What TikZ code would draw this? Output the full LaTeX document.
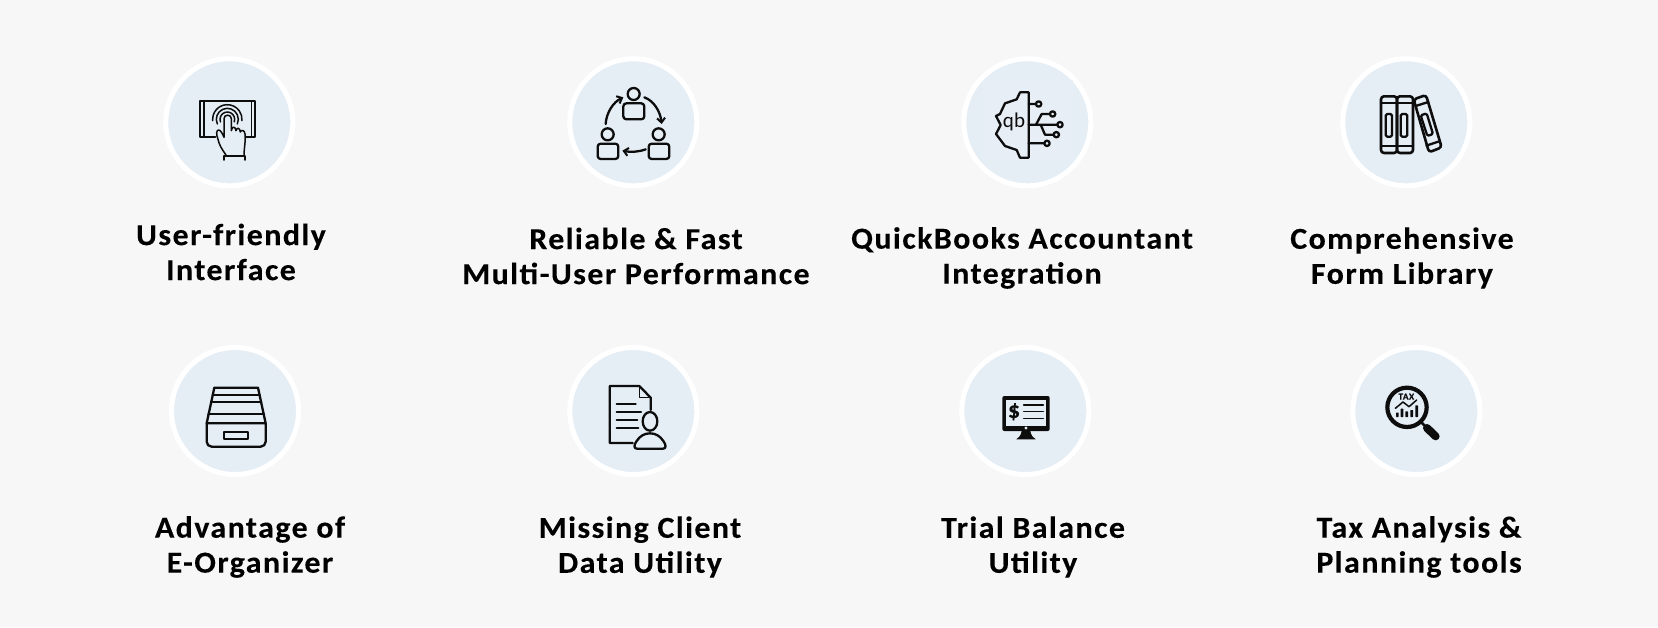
\documentclass[tikz,border=0pt]{standalone}
\usepackage{fontspec}
\setmainfont{Carlito}[BoldFeatures={FakeStretch=1.05,LetterSpace=4.6,FakeBold=0.12}]
\usetikzlibrary{arrows.meta}
\definecolor{pagebg}{HTML}{F7F7F7}
\definecolor{disc}{HTML}{E5EDF5}
\definecolor{ink}{HTML}{0D0D0D}
\tikzset{
  badge/.style={circle,draw=white,line width=5pt,fill=disc,inner sep=0pt,minimum size=127pt},
  caption/.style={align=center,inner sep=0pt,font=\fontsize{30.5}{35}\selectfont\bfseries,text=black},
  icon/.style={draw=ink,line width=2.3pt,line cap=round,line join=round},
  iconthin/.style={draw=ink,line width=1.5pt,line cap=round,line join=round},
  icongrid/.style={x=.33333pt,y=-.33333pt},
  flowtip/.style={-{Straight Barb[length=4.5pt,width=8pt,line width=2pt]}}
}
\begin{document}
\begin{tikzpicture}[x=1pt,y=-1pt]
\useasboundingbox (0,0) rectangle (1658,627);
\fill[pagebg] (0,0) rectangle (1658,627);
% badges
\node[badge] (b1) at (229.3,122.3) {};
\node[badge] (b2) at (633.3,122.3) {};
\node[badge] (b3) at (1027.3,122.3) {};
\node[badge] (b4) at (1406.3,122.3) {};
\node[badge] (b5) at (235,411) {};
\node[badge] (b6) at (633.3,411) {};
\node[badge] (b7) at (1025.3,411) {};
\node[badge] (b8) at (1416.3,411) {};
% captions
\node[caption] (t1) at (231,252) {User-friendly\\Interface};
\node[caption] (t2) at (636,256) {Reliable \& Fast\\Multi-User Performance};
\node[caption] (t3) at (1022,258) {QuickBooks Accountant\\Integration};
\node[caption] (t4) at (1402,258) {Comprehensive\\Form Library};
\node[caption] (t5) at (250,547) {Advantage of\\E-Organizer};
\node[caption] (t6) at (640,547) {Missing Client\\Data Utility};
\node[caption] (t7) at (1033,547) {Trial Balance\\Utility};
\node[caption] (t8) at (1419,547) {Tax Analysis \&\\Planning tools};
% icon 1: touch screen
\begin{scope}[xshift=150pt,yshift=-40pt,icongrid]
  \draw[icon,line width=1.9pt] (196,292) -- (150,292) -- (150,182) -- (316,182) -- (316,292) -- (286,292);
  \draw[iconthin] (162,184) -- (162,290) (305,184) -- (305,290);
  \draw[iconthin] (232,238) ++(160:22) arc[start angle=160,end angle=380,radius=22];
  \draw[iconthin] (232,238) ++(155:33) arc[start angle=155,end angle=385,radius=33];
  \draw[iconthin] (232,238) ++(175:44) arc[start angle=175,end angle=365,radius=44];
  \draw[iconthin,fill=disc] (228,345) .. controls (214,325) and (208,315) .. (204,298)
     .. controls (197,280) and (200,270) .. (206,270) .. controls (212,270) and (218,282) .. (222,292)
     -- (222,236) .. controls (222,222) and (244,222) .. (244,236) -- (244,272)
     .. controls (246,258) and (256,258) .. (258,272)
     .. controls (260,262) and (270,262) .. (271,276)
     .. controls (274,268) and (284,270) .. (285,282)
     .. controls (288,300) and (282,325) .. (282,345);
  \draw[icon,line width=1.9pt] (222,360) -- (222,349) -- (286,349) -- (286,360);
\end{scope}
% icon 2: three users
\begin{scope}[xshift=555pt,yshift=-40pt,icongrid]
  \draw[icon] (236,162) circle[radius=18];
  \draw[icon,rounded corners=3pt] (205,190) rectangle (268,238);
  \draw[icon] (158,283) circle[radius=18];
  \draw[icon,rounded corners=3pt] (128,311) rectangle (190,357);
  \draw[icon] (311,283) circle[radius=18];
  \draw[icon,rounded corners=3pt] (281,311) rectangle (343,357);
  \draw[icon,flowtip] (152,252) .. controls (154,218) and (175,186) .. (205,172);
  \draw[icon,flowtip] (268,172) .. controls (296,182) and (316,214) .. (320,252);
  \draw[icon,flowtip] (272,328) .. controls (250,336) and (226,337) .. (202,332);
\end{scope}
% icon 3: qb circuit
\begin{scope}[xshift=950pt,yshift=-40pt,icongrid]
  \fill[disc!93!white] (100,120) rectangle (370,360);
  \draw[icon] (236,157) -- (210,157) -- (200,178) -- (165,190) -- (150,222) -- (138,228) -- (152,255) -- (138,282) -- (165,318) -- (200,330) -- (210,353) -- (236,353) -- cycle;
  \node[inner sep=0pt,text=ink,font=\fontsize{21}{21}\selectfont] (qb) at (192,247) {qb};
  \draw[icon] (236,192) -- (258,192) (236,254) -- (322,254) (258,254) -- (275,222) -- (300,222) (272,254) -- (285,284) -- (310,284) (236,310) -- (283,310);
  \foreach \cx/\cy in {266/192,308/222,330/254,319/284,291/310}
    \draw[icon] (\cx,\cy) circle[radius=8];
\end{scope}
% icon 4: books
\begin{scope}[xshift=1325pt,yshift=-40pt,icongrid]
  \draw[icon,line width=2.6pt,rounded corners=3pt] (168,169) rectangle (216,339);
  \draw[icon,line width=2.6pt,rounded corners=3pt] (216,169) rectangle (264,339);
  \draw[icon] (168,190) -- (264,190) (168,318) -- (264,318);
  \draw[icon,rounded corners=1.5pt] (182,222) rectangle (201,290);
  \draw[icon,rounded corners=1.5pt] (227,222) rectangle (247,290);
  \draw[icon,line width=2.6pt,rounded corners=3pt] (266,178) -- (303,165) -- (350,322) -- (312,337) -- cycle;
  \draw[icon] (272,198) -- (310,186) (304,317) -- (343,304);
  \draw[icon,rounded corners=1.5pt] (287,226) -- (305,220) -- (324,282) -- (307,288) -- cycle;
\end{scope}
% icon 5: drawer
\begin{scope}[xshift=155pt,yshift=-330pt,icongrid]
  \draw[icon] (155,280) -- (178,173) -- (309,173) -- (332,280);
  \draw[icon] (173,196) -- (314,196) (168,216) -- (319,216) (160,252) -- (327,252);
  \draw[icon] (155,280) [rounded corners=5pt] -- (155,350) -- (332,350) [sharp corners] -- (332,280) -- cycle;
  \draw[icon] (208,305) rectangle (280,328);
\end{scope}
% icon 6: client document
\begin{scope}[xshift=555pt,yshift=-330pt,icongrid]
  \draw[icon] (233,339) -- (164,339) -- (164,168) -- (253,168) -- (287,203) -- (287,240);
  \draw[iconthin] (253,168) -- (253,203) -- (287,203);
  \draw[icon] (185,221) -- (242,221) (185,245) -- (258,245) (185,270) -- (247,270) (185,295) -- (250,295);
  \draw[icon] (285,274) ellipse[x radius=22,y radius=28];
  \draw[icon] (246,356) .. controls (236,356) and (236,345) .. (245,333) .. controls (255,318) and (268,310) .. (285,310) .. controls (302,310) and (315,318) .. (325,333) .. controls (334,345) and (334,356) .. (324,356) -- cycle;
\end{scope}
% icon 7: monitor
\begin{scope}[xshift=945pt,yshift=-330pt,icongrid]
  \fill[ink,rounded corners=2pt] (172,198) rectangle (314,303);
  \fill[disc] (184,210) rectangle (302,287);
  \fill[ink] (230,303) -- (256,303) .. controls (258,316) and (264,323) .. (272,328) -- (214,328) .. controls (222,323) and (228,316) .. (230,303) -- cycle;
  \fill[disc] (243,294) circle[radius=5];
  \node[inner sep=0pt,text=ink,font=\fontsize{23}{23}\selectfont\bfseries] (dollar) at (207,245) {\$};
  \draw[iconthin] (236,225) -- (295,225) (236,245) -- (295,245) (236,265) -- (295,265);
\end{scope}
% icon 8: tax magnifier
\begin{scope}[xshift=1335pt,yshift=-330pt,icongrid]
  \draw[ink,line width=4.2pt] (216,232) circle[radius=59];
  \draw[ink,line width=2.5pt] (258,276) -- (278,296);
  \draw[ink,line width=8pt,line cap=round] (276,294) -- (302,319);
  \node[inner sep=0pt,text=ink,font=\fontsize{9}{9}\selectfont\bfseries] (tax) at (214,200) {TAX};
  \draw[iconthin] (181,235) -- (204,216) -- (222,230) -- (245,210);
  \foreach \bx/\by in {187/248,201/236,215/244,230/240,245/226}
    \fill[ink,rounded corners=.5pt] (\bx-4,\by) rectangle (\bx+4,261);
\end{scope}
\end{tikzpicture}
\end{document}
